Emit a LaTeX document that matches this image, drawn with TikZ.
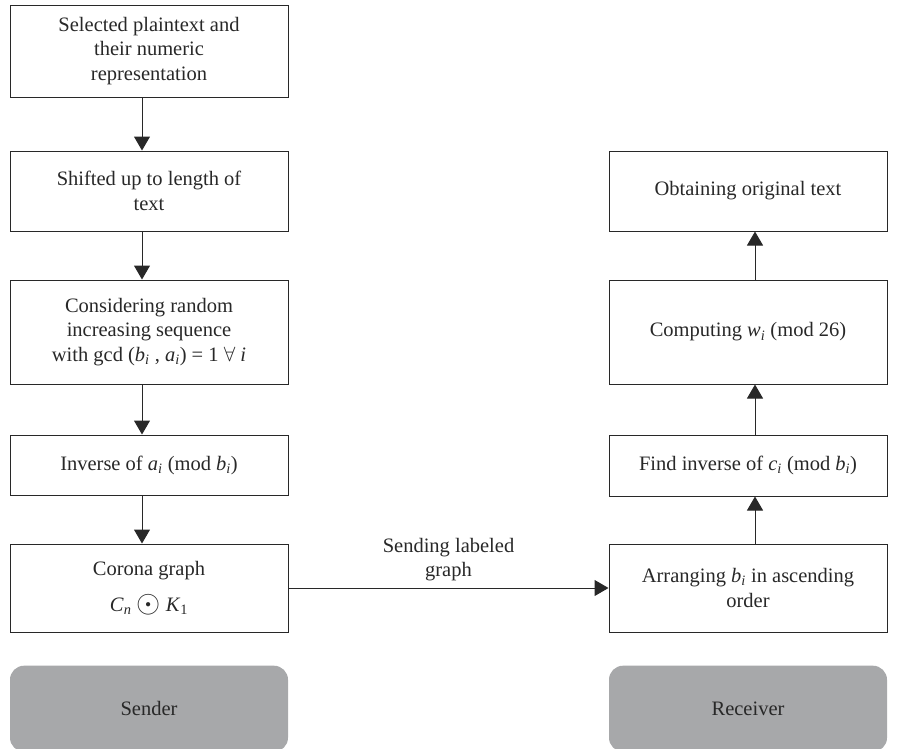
\documentclass[tikz,border=0pt]{standalone}
\usepackage{fontspec}
\setmainfont{Liberation Serif}
\usepackage{amsmath,amssymb}
\usetikzlibrary{arrows.meta,positioning,calc}
\definecolor{linegray}{RGB}{40,40,40}
\definecolor{rolegray}{RGB}{167,168,170}
% italic variable with subscript, in the text font
\newcommand{\vsub}[2]{\textit{#1}\textsubscript{\textit{#2}}}

\begin{document}
\begin{tikzpicture}[
          box/.style={draw=linegray, line width=1pt, minimum width=278pt,
                      inner sep=0pt, align=center,
                      font=\fontsize{20.5}{24.5}\selectfont, text=linegray},
          role/.style={fill=rolegray, rounded corners=14pt,
                       minimum width=278pt, minimum height=86pt,
                       font=\fontsize{20.5}{24.5}\selectfont, text=linegray},
          arr/.style={-{Triangle[length=14pt,width=16pt]}, line width=1pt, linegray}
        ]
          \useasboundingbox (0pt,0pt) rectangle (905pt,-748pt);
          % sender side
          \node[box, minimum height=92pt] (sel) at (149pt,-51pt)
               {Selected plaintext and\\their numeric\\representation};
          \node[box, minimum height=80pt, below=53pt of sel] (shift)
               {Shifted up to length of\\text};
          \node[box, minimum height=104pt, below=48pt of shift] (seq)
               {Considering random\\increasing sequence\\with gcd (\vsub{b}{i} , \vsub{a}{i}) = 1 $\forall$ \textit{i}};
          \node[box, minimum height=60pt, below=50pt of seq] (inv)
               {Inverse of \vsub{a}{i} (mod \vsub{b}{i})};
          \node[box, minimum height=88pt, below=48pt of inv] (corona)
               {Corona graph\\[12pt]\vsub{C}{n} \raisebox{-1pt}{\scalebox{1.5}{$\odot$}} \textit{K}\textsubscript{1}};
          \node[role, below=33pt of corona] (sender) {Sender};
          % receiver side
          \node[box, minimum height=88pt, right=320pt of corona] (asc)
               {Arranging \vsub{b}{i} in ascending\\order};
          \node[box, minimum height=61pt, above=47pt of asc] (find)
               {Find inverse of \vsub{c}{i} (mod \vsub{b}{i})};
          \node[box, minimum height=104pt, above=50pt of find] (comp)
               {Computing \vsub{w}{i} (mod 26)};
          \node[box, minimum height=80pt, above=48pt of comp] (orig)
               {Obtaining original text};
          \node[role, below=33pt of asc] (receiver) {Receiver};
          % connectors
          \draw[arr] ([xshift=-7pt]sel.south) -- ([xshift=-7pt]shift.north);
          \draw[arr] ([xshift=-7pt]shift.south) -- ([xshift=-7pt]seq.north);
          \draw[arr] ([xshift=-7pt]seq.south) -- ([xshift=-7pt]inv.north);
          \draw[arr] ([xshift=-7pt]inv.south) -- ([xshift=-7pt]corona.north);
          \draw[arr] (corona) -- node[above=3pt, align=center,
                font=\fontsize{20.5}{24.5}\selectfont, text=linegray]
                {Sending labeled\\graph} (asc);
          \draw[arr] ([xshift=7pt]asc.north) -- ([xshift=7pt]find.south);
          \draw[arr] ([xshift=7pt]find.north) -- ([xshift=7pt]comp.south);
          \draw[arr] ([xshift=7pt]comp.north) -- ([xshift=7pt]orig.south);
        \end{tikzpicture}
\end{document}
